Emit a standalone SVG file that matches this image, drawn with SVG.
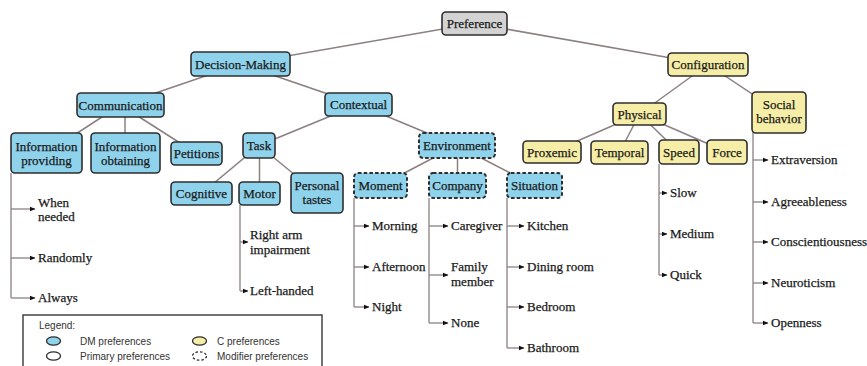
<svg xmlns="http://www.w3.org/2000/svg" width="867" height="366" viewBox="0 0 867 366">
<defs>
<marker id="ah" viewBox="0 0 6 6" refX="5.5" refY="3" markerWidth="6" markerHeight="6" markerUnits="userSpaceOnUse" orient="auto"><path d="M0,0.5 L6,3 L0,5.5 z" fill="#111"/></marker>
<style>
.n rect{stroke:#2e2e2e;stroke-width:1.6}
.b rect{fill:#8fd2ec}
.y rect{fill:#f6eea6}
.g rect{fill:#d3d3d3}
.d rect{stroke-dasharray:3.5 2.2;stroke-width:2}
text{font-family:"Liberation Serif","Times New Roman",serif;font-size:13px;fill:#1a1a1a;stroke:#1a1a1a;stroke-width:0.25}
.n text{text-anchor:middle}
.e line{stroke:#8c8080;stroke-width:1.5}
.l path{fill:none;stroke:#8c8080;stroke-width:1.3}
.l line{stroke:#8c8080;stroke-width:1.3;marker-end:url(#ah)}
.lg text{font-family:"Liberation Sans",Arial,sans-serif;font-size:10px;fill:#333;stroke:none}
</style>
</defs>
<rect width="867" height="366" fill="#fff"/>
<g id="connectors">
<g class="e">
<line x1="474.5" y1="23.5" x2="240.5" y2="64"/>
<line x1="474.5" y1="23.5" x2="708" y2="64.5"/>
<line x1="240.5" y1="64" x2="120.5" y2="105"/>
<line x1="240.5" y1="64" x2="358.5" y2="104.5"/>
<line x1="120.5" y1="105" x2="46.5" y2="153"/>
<line x1="125" y1="105" x2="125" y2="153"/>
<line x1="120.5" y1="105" x2="196.5" y2="153.5"/>
<line x1="358.5" y1="104.5" x2="259" y2="145.5"/>
<line x1="358.5" y1="104.5" x2="457" y2="145.5"/>
<line x1="259" y1="145.5" x2="201.5" y2="193.5"/>
<line x1="259.5" y1="145.5" x2="259.5" y2="193.5"/>
<line x1="259" y1="145.5" x2="317" y2="193"/>
<line x1="457" y1="145.5" x2="380.5" y2="185.5"/>
<line x1="457.5" y1="145.5" x2="457.5" y2="185.5"/>
<line x1="457" y1="145.5" x2="534.5" y2="185.5"/>
<line x1="708" y1="64.5" x2="639.5" y2="114"/>
<line x1="708" y1="64.5" x2="779" y2="112"/>
<line x1="639.5" y1="114" x2="552" y2="152"/>
<line x1="639.5" y1="114" x2="619.5" y2="152.5"/>
<line x1="639.5" y1="114" x2="678.5" y2="152"/>
<line x1="639.5" y1="114" x2="727" y2="152"/>
</g>
<g class="l">
<path d="M11,173 V298"/>
<line x1="11" y1="209" x2="35" y2="209"/>
<line x1="11" y1="258" x2="35" y2="258"/>
<line x1="11" y1="298" x2="35" y2="298"/>
<path d="M240,205 V291"/>
<line x1="240" y1="242" x2="248" y2="242"/>
<line x1="240" y1="291" x2="248" y2="291"/>
<path d="M354,198 V307"/>
<line x1="354" y1="226" x2="369" y2="226"/>
<line x1="354" y1="267" x2="369" y2="267"/>
<line x1="354" y1="307" x2="369" y2="307"/>
<path d="M429,198 V323"/>
<line x1="429" y1="226" x2="448" y2="226"/>
<line x1="429" y1="275" x2="448" y2="275"/>
<line x1="429" y1="323" x2="448" y2="323"/>
<path d="M507,198 V348"/>
<line x1="507" y1="226" x2="524" y2="226"/>
<line x1="507" y1="267" x2="524" y2="267"/>
<line x1="507" y1="307" x2="524" y2="307"/>
<line x1="507" y1="348" x2="524" y2="348"/>
<path d="M659,164 V275"/>
<line x1="659" y1="193" x2="667" y2="193"/>
<line x1="659" y1="234" x2="667" y2="234"/>
<line x1="659" y1="275" x2="667" y2="275"/>
<path d="M753,132 V323"/>
<line x1="753" y1="160" x2="768" y2="160"/>
<line x1="753" y1="202" x2="768" y2="202"/>
<line x1="753" y1="242" x2="768" y2="242"/>
<line x1="753" y1="283" x2="768" y2="283"/>
<line x1="753" y1="323" x2="768" y2="323"/>
</g>
</g>
<g id="preference" class="n g"><rect x="442" y="12" width="65" height="23" rx="4"/><text x="474.5" y="28">Preference</text></g>
<g id="decision-making" class="n b"><rect x="191" y="52" width="99" height="24" rx="4"/><text x="240.5" y="68.5">Decision-Making</text></g>
<g id="configuration" class="n y"><rect x="668" y="53" width="80" height="23" rx="4"/><text x="708" y="69">Configuration</text></g>
<g id="communication" class="n b"><rect x="77" y="93" width="87" height="24" rx="4"/><text x="120.5" y="109.5">Communication</text></g>
<g id="contextual" class="n b"><rect x="325" y="93" width="67" height="23" rx="4"/><text x="358.5" y="109">Contextual</text></g>
<g id="information-providing" class="n b"><rect x="11" y="133" width="71" height="40" rx="4"/><text x="46.5" y="151">Information</text><text x="46.5" y="164.5">providing</text></g>
<g id="information-obtaining" class="n b"><rect x="91" y="133" width="69" height="40" rx="4"/><text x="125.5" y="151">Information</text><text x="125.5" y="164.5">obtaining</text></g>
<g id="petitions" class="n b"><rect x="171" y="142" width="51" height="23" rx="4"/><text x="196.5" y="158">Petitions</text></g>
<g id="task" class="n b"><rect x="243" y="133" width="32" height="25" rx="4"/><text x="259" y="150">Task</text></g>
<g id="environment" class="n b d"><rect x="419" y="133" width="76" height="25" rx="4"/><text x="457" y="150">Environment</text></g>
<g id="cognitive" class="n b"><rect x="171" y="182" width="61" height="23" rx="4"/><text x="201.5" y="198">Cognitive</text></g>
<g id="motor" class="n b"><rect x="239" y="182" width="41" height="23" rx="4"/><text x="259.5" y="198">Motor</text></g>
<g id="personal-tastes" class="n b"><rect x="291" y="173" width="52" height="40" rx="4"/><text x="317" y="190">Personal</text><text x="317" y="204">tastes</text></g>
<g id="moment" class="n b d"><rect x="354" y="173" width="53" height="25" rx="4"/><text x="380.5" y="190">Moment</text></g>
<g id="company" class="n b d"><rect x="429" y="173" width="57" height="25" rx="4"/><text x="457.5" y="190">Company</text></g>
<g id="situation" class="n b d"><rect x="507" y="173" width="55" height="25" rx="4"/><text x="534.5" y="190">Situation</text></g>
<g id="physical" class="n y"><rect x="613" y="103" width="53" height="22" rx="4"/><text x="639.5" y="118.5">Physical</text></g>
<g id="social-behavior" class="n y"><rect x="752" y="92" width="54" height="41" rx="4"/><text x="779" y="109">Social</text><text x="779" y="123">behavior</text></g>
<g id="proxemic" class="n y"><rect x="523" y="141" width="58" height="22" rx="4"/><text x="552" y="156.5">Proxemic</text></g>
<g id="temporal" class="n y"><rect x="591" y="141" width="57" height="23" rx="4"/><text x="619.5" y="157">Temporal</text></g>
<g id="speed" class="n y"><rect x="659" y="140" width="40" height="24" rx="4"/><text x="679" y="156.5">Speed</text></g>
<g id="force" class="n y"><rect x="707" y="140" width="40" height="24" rx="4"/><text x="727" y="156.5">Force</text></g>
<g id="leaves">
<text x="38" y="207">When</text><text x="38" y="221">needed</text>
<text x="38" y="262">Randomly</text>
<text x="38" y="302">Always</text>
<text x="250" y="239">Right arm</text><text x="250" y="254">impairment</text>
<text x="250" y="295">Left-handed</text>
<text x="372" y="230">Morning</text>
<text x="372" y="271">Afternoon</text>
<text x="372" y="311">Night</text>
<text x="451" y="230">Caregiver</text>
<text x="451" y="271">Family</text><text x="451" y="286">member</text>
<text x="451" y="327">None</text>
<text x="527" y="230">Kitchen</text>
<text x="527" y="271">Dining room</text>
<text x="527" y="311">Bedroom</text>
<text x="527" y="352">Bathroom</text>
<text x="670" y="197">Slow</text>
<text x="670" y="238">Medium</text>
<text x="670" y="279">Quick</text>
<text x="771" y="164">Extraversion</text>
<text x="771" y="206">Agreeableness</text>
<text x="771" y="246">Conscientiousness</text>
<text x="771" y="287">Neuroticism</text>
<text x="771" y="327">Openness</text>
</g>
<g id="legend" class="lg">
<rect x="23" y="315" width="299" height="60" fill="#fff" stroke="#444" stroke-width="1.5"/>
<text x="39" y="329">Legend:</text>
<ellipse cx="53.5" cy="341" rx="7" ry="4.2" fill="#8fd2ec" stroke="#2e2e2e" stroke-width="1.3"/>
<text x="80" y="344.5">DM preferences</text>
<ellipse cx="199.5" cy="341" rx="7" ry="4.2" fill="#f6eea6" stroke="#2e2e2e" stroke-width="1.3"/>
<text x="217" y="344.5">C preferences</text>
<ellipse cx="53.5" cy="356" rx="7" ry="4.2" fill="#fff" stroke="#2e2e2e" stroke-width="1.3"/>
<text x="80" y="359.5">Primary preferences</text>
<ellipse cx="199.5" cy="356" rx="7" ry="4.2" fill="#fff" stroke="#2e2e2e" stroke-width="1.3" stroke-dasharray="2.5 2"/>
<text x="217" y="359.5">Modifier preferences</text>
</g>
</svg>
